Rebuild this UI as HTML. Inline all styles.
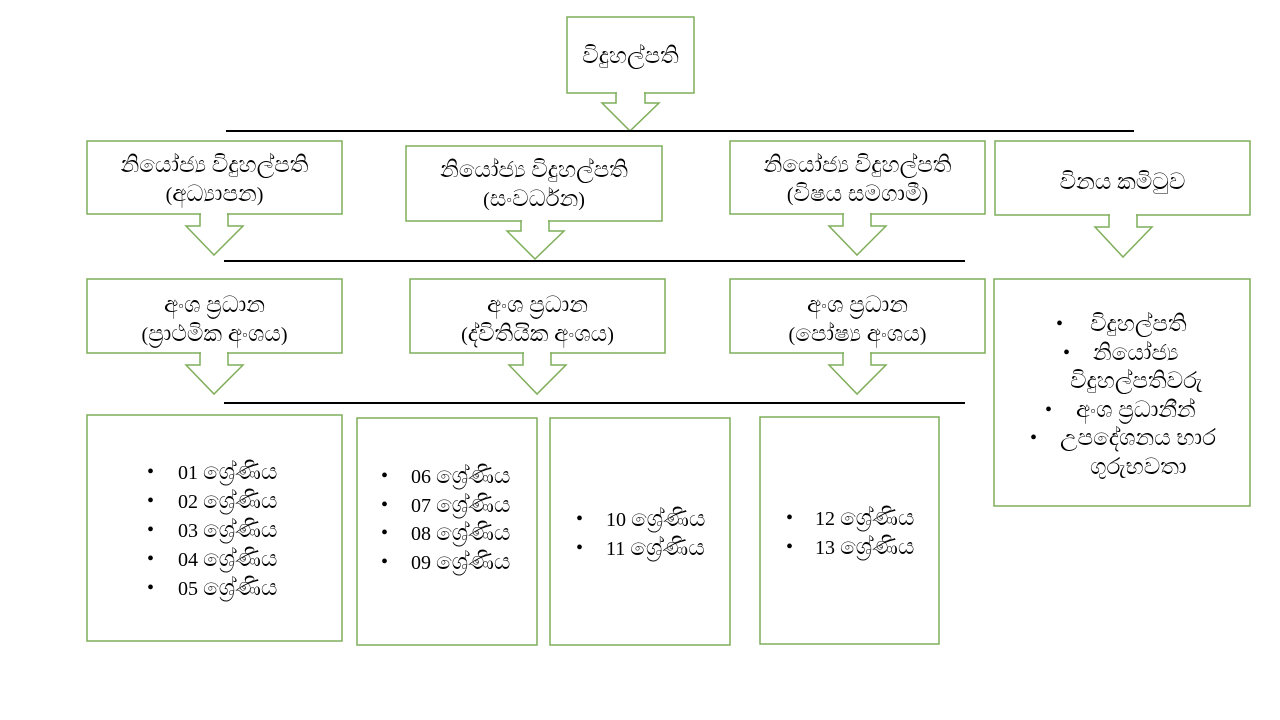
<!DOCTYPE html>
<html><head><meta charset="utf-8">
<style>
html,body{margin:0;padding:0;background:#fff;}
#w{position:relative;width:1280px;height:720px;overflow:hidden;font-family:"Liberation Serif","Noto Sans CJK SC",serif;font-size:20px;color:#000;}
svg{position:absolute;left:0;top:0;}
.c{position:absolute;text-align:center;line-height:28px;white-space:nowrap;}
.t{position:absolute;line-height:28px;white-space:nowrap;}
.s{font-size:23px;line-height:28px;}
</style></head><body>
<div id="w">
<svg width="1280" height="720" viewBox="0 0 1280 720">
<g fill="#fff" stroke="#7fae5a" stroke-width="1.5">
<rect x="567" y="17" width="127" height="76"/>
<rect x="87" y="141" width="255" height="73"/>
<rect x="406" y="146" width="256" height="75"/>
<rect x="730" y="141" width="255" height="73"/>
<rect x="995" y="141" width="255" height="74"/>
<rect x="87" y="279" width="255" height="74"/>
<rect x="410" y="279" width="255" height="74"/>
<rect x="730" y="279" width="255" height="74"/>
<rect x="994" y="279" width="256" height="227"/>
<rect x="87" y="415" width="255" height="226"/>
<rect x="357" y="418" width="180" height="227"/>
<rect x="550" y="418" width="180" height="227"/>
<rect x="760" y="417" width="179" height="227"/>
<polygon points="616,93 616,103 602,103 630,131 659,103 645,103 645,93"/>
<polygon points="200,214 200,226 186,226 214,255 243,226 228,226 228,214"/>
<polygon points="521,221 521,231 507,231 535,259 564,231 549,231 549,221"/>
<polygon points="843,214 843,226 829,226 857,255 886,226 871,226 871,214"/>
<polygon points="1109,215 1109,227 1095,227 1123,257 1152,227 1137,227 1137,215"/>
<polygon points="200,353 200,365 186,365 214,394 243,365 228,365 228,353"/>
<polygon points="523,353 523,365 509,365 537,394 566,365 551,365 551,353"/>
<polygon points="843,353 843,365 829,365 857,394 886,365 871,365 871,353"/>
</g>
<g stroke="#fff" stroke-width="2">
<line x1="617" y1="93" x2="644" y2="93"/>
<line x1="201" y1="214" x2="227" y2="214"/>
<line x1="522" y1="221" x2="548" y2="221"/>
<line x1="844" y1="214" x2="870" y2="214"/>
<line x1="1110" y1="215" x2="1136" y2="215"/>
<line x1="201" y1="353" x2="227" y2="353"/>
<line x1="524" y1="353" x2="550" y2="353"/>
<line x1="844" y1="353" x2="870" y2="353"/>
</g>
<g stroke="#000" stroke-width="2">
<line x1="226" y1="131" x2="1134" y2="131"/>
<line x1="224" y1="261" x2="965" y2="261"/>
<line x1="224" y1="403" x2="965" y2="403"/>
</g>
</svg>

<div class="c" style="left:567px;width:127px;top:42px;"><span class="s">විදුහල්පති</span></div>

<div class="c" style="left:87px;width:255px;top:151px;"><span class="s">නියෝජ්‍ය විදුහල්පති</span><br>(<span class="s">අධ්‍යාපන</span>)</div>
<div class="c" style="left:406px;width:256px;top:156px;"><span class="s">නියෝජ්‍ය විදුහල්පති</span><br>(<span class="s">සංවර්ධන</span>)</div>
<div class="c" style="left:730px;width:255px;top:151px;"><span class="s">නියෝජ්‍ය විදුහල්පති</span><br>(<span class="s">විෂය සමගාමී</span>)</div>
<div class="c" style="left:995px;width:255px;top:168px;"><span class="s">විනය කමිටුව</span></div>

<div class="c" style="left:87px;width:255px;top:291px;"><span class="s">අංශ ප්‍රධාන</span><br>(<span class="s">ප්‍රාථමික අංශය</span>)</div>
<div class="c" style="left:410px;width:255px;top:291px;"><span class="s">අංශ ප්‍රධාන</span><br>(<span class="s">ද්විතියික අංශය</span>)</div>
<div class="c" style="left:730px;width:255px;top:291px;"><span class="s">අංශ ප්‍රධාන</span><br>(<span class="s">පෝෂ්‍ය අංශය</span>)</div>

<span class="t" style="left:1056px;top:310px;">•</span><span class="t s" style="left:1090px;top:310px;">විදුහල්පති</span>
<span class="t" style="left:1063px;top:339px;">•</span><span class="t s" style="left:1093px;top:339px;">නියෝජ්‍ය</span>
<span class="t s" style="left:1070px;top:367px;">විදුහල්පතිවරු</span>
<span class="t" style="left:1045px;top:396px;">•</span><span class="t s" style="left:1076px;top:396px;">අංශ ප්‍රධානීන්</span>
<span class="t" style="left:1030px;top:424px;">•</span><span class="t s" style="left:1060px;top:424px;">උපදේශනය භාර</span>
<span class="t s" style="left:1090px;top:453px;">ගුරුභවතා</span>

<span class="t" style="left:147px;top:458px;">•</span><span class="t" style="left:178px;top:458px;">01 <span class="s">ශ්‍රේණිය</span></span>
<span class="t" style="left:147px;top:487px;">•</span><span class="t" style="left:178px;top:487px;">02 <span class="s">ශ්‍රේණිය</span></span>
<span class="t" style="left:147px;top:516px;">•</span><span class="t" style="left:178px;top:516px;">03 <span class="s">ශ්‍රේණිය</span></span>
<span class="t" style="left:147px;top:545px;">•</span><span class="t" style="left:178px;top:545px;">04 <span class="s">ශ්‍රේණිය</span></span>
<span class="t" style="left:147px;top:574px;">•</span><span class="t" style="left:178px;top:574px;">05 <span class="s">ශ්‍රේණිය</span></span>

<span class="t" style="left:381px;top:462px;">•</span><span class="t" style="left:411px;top:462px;">06 <span class="s">ශ්‍රේණිය</span></span>
<span class="t" style="left:381px;top:491px;">•</span><span class="t" style="left:411px;top:491px;">07 <span class="s">ශ්‍රේණිය</span></span>
<span class="t" style="left:381px;top:519px;">•</span><span class="t" style="left:411px;top:519px;">08 <span class="s">ශ්‍රේණිය</span></span>
<span class="t" style="left:381px;top:548px;">•</span><span class="t" style="left:411px;top:548px;">09 <span class="s">ශ්‍රේණිය</span></span>

<span class="t" style="left:576px;top:505px;">•</span><span class="t" style="left:606px;top:505px;">10 <span class="s">ශ්‍රේණිය</span></span>
<span class="t" style="left:576px;top:534px;">•</span><span class="t" style="left:606px;top:534px;">11 <span class="s">ශ්‍රේණිය</span></span>

<span class="t" style="left:786px;top:504px;">•</span><span class="t" style="left:815px;top:504px;">12 <span class="s">ශ්‍රේණිය</span></span>
<span class="t" style="left:786px;top:533px;">•</span><span class="t" style="left:815px;top:533px;">13 <span class="s">ශ්‍රේණිය</span></span>
</div>
</body></html>
